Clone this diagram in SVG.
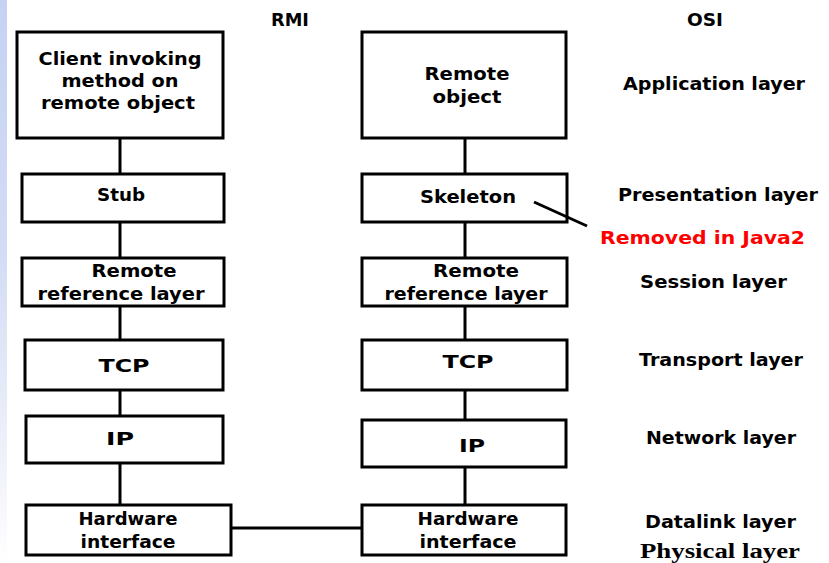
<svg xmlns="http://www.w3.org/2000/svg" width="829" height="563" viewBox="0 0 829 563">
  <defs>
    <linearGradient id="edge" x1="0" y1="0" x2="0" y2="1">
      <stop offset="0" stop-color="#c5d2f2"/>
      <stop offset="0.45" stop-color="#d3dcf4"/>
      <stop offset="0.85" stop-color="#f2f4fb"/>
      <stop offset="1" stop-color="#ffffff"/>
    </linearGradient>
  </defs>
  <style>
    .box { fill: #ffffff; stroke: #000000; stroke-width: 3; }
    .wire { stroke: #000000; stroke-width: 3; fill: none; }
    text { font-family: "DejaVu Sans", "Liberation Sans", sans-serif; font-weight: bold; font-size: 18px; fill: #000000; }
    .c { text-anchor: middle; }
    .note { fill: #ff0000; }
    .serif { font-family: "Liberation Serif", "DejaVu Serif", serif; font-size: 20px; }
  </style>

  <rect width="829" height="563" fill="#ffffff"/>
  <rect x="0" y="0" width="7" height="563" fill="url(#edge)"/>

  <!-- column headings -->
  <text class="c" x="290" y="26" textLength="38" lengthAdjust="spacingAndGlyphs">RMI</text>
  <text class="c" x="705" y="26" textLength="36" lengthAdjust="spacingAndGlyphs">OSI</text>

  <!-- RMI column -->
  <g id="client">
    <rect class="box" x="17" y="32" width="206" height="106"/>
    <text class="c" x="120" y="65" textLength="163" lengthAdjust="spacingAndGlyphs">Client invoking</text>
    <text class="c" x="120" y="87" textLength="117" lengthAdjust="spacingAndGlyphs">method on</text>
    <text class="c" x="118" y="109" textLength="154" lengthAdjust="spacingAndGlyphs">remote object</text>
  </g>
  <g id="stub">
    <rect class="box" x="22" y="174" width="202" height="48"/>
    <text class="c" x="121" y="201" textLength="48" lengthAdjust="spacingAndGlyphs">Stub</text>
  </g>
  <g id="rrl-left">
    <rect class="box" x="22" y="258" width="202" height="48"/>
    <text class="c" x="134" y="277" textLength="85" lengthAdjust="spacingAndGlyphs">Remote</text>
    <text class="c" x="121" y="300" textLength="167" lengthAdjust="spacingAndGlyphs">reference layer</text>
  </g>
  <g id="tcp-left">
    <rect class="box" x="25" y="340" width="198" height="50"/>
    <text class="c" x="124" y="372" textLength="51" lengthAdjust="spacingAndGlyphs">TCP</text>
  </g>
  <g id="ip-left">
    <rect class="box" x="26" y="416" width="197" height="47"/>
    <text class="c" x="120" y="445" textLength="28" lengthAdjust="spacingAndGlyphs">IP</text>
  </g>
  <g id="hw-left">
    <rect class="box" x="26" y="505" width="205" height="50"/>
    <text class="c" x="128" y="525" textLength="99" lengthAdjust="spacingAndGlyphs">Hardware</text>
    <text class="c" x="128" y="548" textLength="95" lengthAdjust="spacingAndGlyphs">interface</text>
  </g>

  <!-- OSI column -->
  <g id="remote-object">
    <rect class="box" x="362" y="32" width="204" height="106"/>
    <text class="c" x="467" y="80" textLength="85" lengthAdjust="spacingAndGlyphs">Remote</text>
    <text class="c" x="467" y="103" textLength="69" lengthAdjust="spacingAndGlyphs">object</text>
  </g>
  <g id="skeleton">
    <rect class="box" x="362" y="174" width="205" height="48"/>
    <text class="c" x="468" y="203" textLength="96" lengthAdjust="spacingAndGlyphs">Skeleton</text>
  </g>
  <g id="rrl-right">
    <rect class="box" x="362" y="258" width="205" height="48"/>
    <text class="c" x="476" y="277" textLength="86" lengthAdjust="spacingAndGlyphs">Remote</text>
    <text class="c" x="466" y="300" textLength="163" lengthAdjust="spacingAndGlyphs">reference layer</text>
  </g>
  <g id="tcp-right">
    <rect class="box" x="362" y="340" width="205" height="50"/>
    <text class="c" x="468" y="368" textLength="51" lengthAdjust="spacingAndGlyphs">TCP</text>
  </g>
  <g id="ip-right">
    <rect class="box" x="362" y="420" width="204" height="47"/>
    <text class="c" x="472" y="452" textLength="26" lengthAdjust="spacingAndGlyphs">IP</text>
  </g>
  <g id="hw-right">
    <rect class="box" x="362" y="505" width="204" height="50"/>
    <text class="c" x="468" y="525" textLength="101" lengthAdjust="spacingAndGlyphs">Hardware</text>
    <text class="c" x="468" y="548" textLength="97" lengthAdjust="spacingAndGlyphs">interface</text>
  </g>

  <!-- connectors, drawn over the boxes so the note pointer crosses the Skeleton border -->
  <g id="connectors">
    <line class="wire" x1="120" y1="139" x2="120" y2="173"/>
    <line class="wire" x1="120" y1="223" x2="120" y2="257"/>
    <line class="wire" x1="120" y1="307" x2="120" y2="339"/>
    <line class="wire" x1="120" y1="391" x2="120" y2="415"/>
    <line class="wire" x1="120" y1="464" x2="120" y2="504"/>
    <line class="wire" x1="465" y1="139" x2="465" y2="173"/>
    <line class="wire" x1="465" y1="223" x2="465" y2="257"/>
    <line class="wire" x1="465" y1="307" x2="465" y2="339"/>
    <line class="wire" x1="465" y1="391" x2="465" y2="419"/>
    <line class="wire" x1="465" y1="468" x2="465" y2="504"/>
    <line class="wire" x1="232" y1="528" x2="361" y2="528"/>
    <line class="wire" x1="534" y1="202" x2="587" y2="226"/>
  </g>

  <!-- layer names -->
  <g id="layer-names">
    <text x="623" y="90" textLength="182" lengthAdjust="spacingAndGlyphs">Application layer</text>
    <text x="618" y="201" textLength="200" lengthAdjust="spacingAndGlyphs">Presentation layer</text>
    <text class="note" x="600" y="244" textLength="205" lengthAdjust="spacingAndGlyphs">Removed in Java2</text>
    <text x="640" y="288" textLength="147" lengthAdjust="spacingAndGlyphs">Session layer</text>
    <text x="639" y="366" textLength="164" lengthAdjust="spacingAndGlyphs">Transport layer</text>
    <text x="646" y="444" textLength="150" lengthAdjust="spacingAndGlyphs">Network layer</text>
    <text x="645" y="528" textLength="151" lengthAdjust="spacingAndGlyphs">Datalink layer</text>
    <text class="serif" x="640" y="558" textLength="160" lengthAdjust="spacingAndGlyphs">Physical layer</text>
  </g>
</svg>
